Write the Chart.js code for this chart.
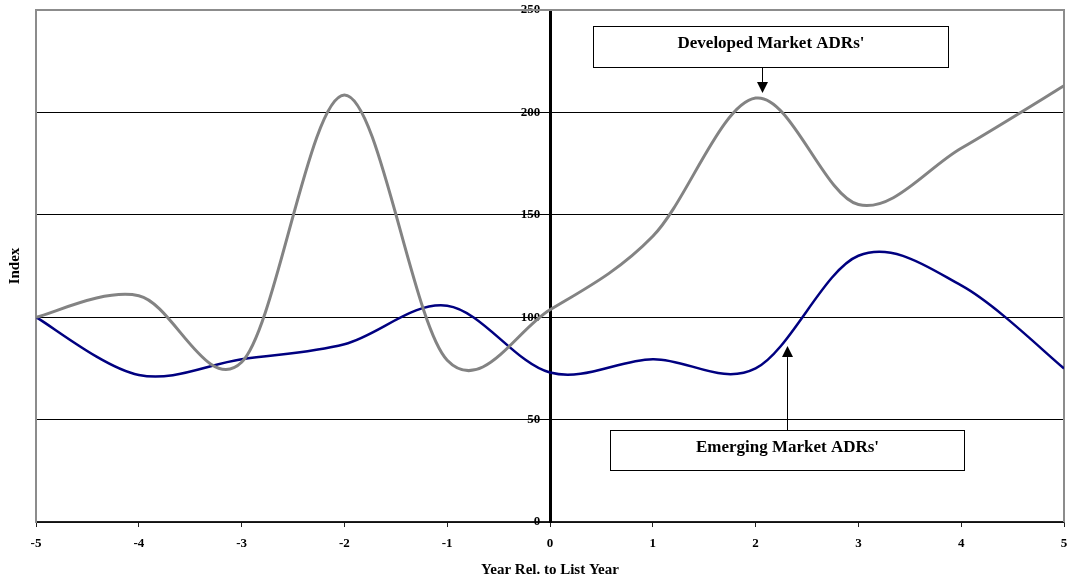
<!DOCTYPE html>
<html>
<head>
<meta charset="utf-8">
<style>
  html, body { margin: 0; padding: 0; background: #ffffff; }
  #wrap { width: 1069px; height: 585px; }
</style>
<script src="https://cdn.jsdelivr.net/npm/chart.js@4.4.1/dist/chart.umd.min.js"></script>
</head>
<body>
<div id="wrap"><canvas id="c" width="1069" height="585"></canvas></div>
<script>
// Years relative to the listing year
const years = [-5, -4, -3, -2, -1, 0, 1, 2, 3, 4, 5];
// Index levels (year -5 = 100)
const developed = [100, 110.5, 78, 208.5, 79, 103.6, 139.5, 207, 155, 182.5, 213];
const emerging  = [100, 71.8, 79.5, 86.8, 105.6, 73, 79.5, 75, 130, 115.5, 75];
const yTicks = [0, 50, 100, 150, 200, 250];
const xTitle = 'Year Rel. to List Year';
const yTitle = 'Index';
const developedLabel = "Developed Market ADRs'";
const emergingLabel = "Emerging Market ADRs'";

const SERIF = "'Liberation Serif', 'DejaVu Serif', serif";

// Callout boxes, anchored in data units
const callouts = [
  { text: developedLabel, x0: 0.418, x1: 3.869, yTop: 242.2, yBottom: 222.0,
    arrowX: 2.059, arrowFrom: 'bottom', arrowTip: 209.5 },
  { text: emergingLabel, x0: 0.579, x1: 4.025, yTop: 44.9, yBottom: 25.4,
    arrowX: 2.305, arrowFrom: 'top', arrowTip: 85.9 }
];

// Smooth the lines with a uniform Catmull-Rom spline: each point's Bezier
// handles run parallel to the chord between its neighbours, 1/6 of its length.
const catmullRomPlugin = {
  id: 'catmullRom',
  afterDatasetUpdate(chart, args) {
    const meta = args.meta;
    const line = meta.dataset;
    const pts = meta.data;
    if (!line || !pts || pts.length < 2) return;
    line.updateControlPoints(chart.chartArea, meta.iScale.axis);
    for (let i = 0; i < pts.length; i++) {
      const p = pts[i];
      const prev = pts[i - 1] || p;
      const next = pts[i + 1] || p;
      const tx = (next.x - prev.x) / 6;
      const ty = (next.y - prev.y) / 6;
      p.cp1x = p.x - tx; p.cp1y = p.y - ty;
      p.cp2x = p.x + tx; p.cp2y = p.y + ty;
    }
  }
};

const framePlugin = {
  id: 'frame',
  beforeDatasetsDraw(chart) {
    const { ctx, chartArea: a } = chart;
    ctx.save();
    ctx.strokeStyle = '#8c8c8c';
    ctx.lineWidth = 2;
    ctx.beginPath();
    ctx.moveTo(a.left, a.top);
    ctx.lineTo(a.right, a.top);
    ctx.lineTo(a.right, a.bottom);
    ctx.stroke();
    ctx.restore();
  }
};

const calloutPlugin = {
  id: 'callouts',
  afterDatasetsDraw(chart) {
    const { ctx } = chart;
    const xs = chart.scales.x, ys = chart.scales.y;
    ctx.save();
    callouts.forEach(c => {
      const l = Math.round(xs.getPixelForValue(c.x0)) + 0.5;
      const r = Math.round(xs.getPixelForValue(c.x1)) + 0.5;
      const t = Math.round(ys.getPixelForValue(c.yTop)) + 0.5;
      const b = Math.round(ys.getPixelForValue(c.yBottom)) + 0.5;
      ctx.fillStyle = '#ffffff';
      ctx.fillRect(l, t, r - l, b - t);
      ctx.strokeStyle = '#000000';
      ctx.lineWidth = 1;
      ctx.strokeRect(l, t, r - l, b - t);
      ctx.fillStyle = '#000000';
      ctx.font = 'bold 17px ' + SERIF;
      ctx.textAlign = 'center';
      ctx.textBaseline = 'middle';
      ctx.fillText(c.text, (l + r) / 2, t + 17);

      const ax = Math.round(xs.getPixelForValue(c.arrowX)) + 0.5;
      const tip = ys.getPixelForValue(c.arrowTip);
      const start = c.arrowFrom === 'bottom' ? b : t;
      const dir = tip > start ? 1 : -1;
      const head = 11, half = 5.5;
      ctx.beginPath();
      ctx.moveTo(ax, start);
      ctx.lineTo(ax, tip - dir * head);
      ctx.stroke();
      ctx.beginPath();
      ctx.moveTo(ax, tip);
      ctx.lineTo(ax - half, tip - dir * head);
      ctx.lineTo(ax + half, tip - dir * head);
      ctx.closePath();
      ctx.fill();
    });
    ctx.restore();
  }
};

const toPoints = arr => years.map((yr, i) => ({ x: yr, y: arr[i] }));

new Chart(document.getElementById('c'), {
  type: 'line',
  data: {
    datasets: [
      {
        label: developedLabel,
        data: toPoints(developed),
        borderColor: '#838383',
        borderWidth: 3,
        pointRadius: 0,
        tension: 0.5,
        fill: false
      },
      {
        label: emergingLabel,
        data: toPoints(emerging),
        borderColor: '#000080',
        borderWidth: 2.5,
        pointRadius: 0,
        tension: 0.5,
        fill: false
      }
    ]
  },
  options: {
    responsive: false,
    animation: false,
    devicePixelRatio: 1,
    layout: { padding: { left: 2, right: 5, top: 10, bottom: 0 } },
    plugins: {
      legend: { display: false },
      tooltip: { enabled: false }
    },
    scales: {
      x: {
        type: 'linear',
        position: 'bottom',
        min: years[0],
        max: years[years.length - 1],
        ticks: {
          stepSize: 1,
          color: '#000000',
          padding: 1,
          font: { family: SERIF, size: 13, weight: 'bold', lineHeight: 2.46 }
        },
        grid: {
          drawOnChartArea: false,
          drawTicks: true,
          tickLength: 5,
          color: '#222222',
          lineWidth: 1
        },
        border: { color: '#222222', width: 1.5 },
        title: {
          display: true,
          text: xTitle,
          color: '#000000',
          font: { family: SERIF, size: 15, weight: 'bold' },
          padding: { top: 0, bottom: 6 }
        }
      },
      y: {
        type: 'linear',
        position: { x: 0 },
        min: yTicks[0],
        max: yTicks[yTicks.length - 1],
        afterBuildTicks(scale) { scale.ticks = yTicks.map(v => ({ value: v })); },
        ticks: {
          color: '#000000',
          padding: 0,
          font: { family: SERIF, size: 13, weight: 'bold' },
          callback: v => v + '   '
        },
        grid: {
          color: ctx => (ctx.tick && ctx.tick.value === 250 ? '#8c8c8c' : '#000000'),
          lineWidth: 1,
          tickLength: 4
        },
        border: { color: '#000000', width: 3 }
      },
      yFrame: {
        type: 'linear',
        position: 'left',
        min: yTicks[0],
        max: yTicks[yTicks.length - 1],
        ticks: { display: false },
        grid: { display: false, drawTicks: false },
        border: { display: true, color: '#8c8c8c', width: 2 },
        title: {
          display: true,
          text: yTitle,
          color: '#000000',
          font: { family: SERIF, size: 15, weight: 'bold' },
          padding: { top: 4, bottom: 12 }
        }
      }
    }
  },
  plugins: [catmullRomPlugin, framePlugin, calloutPlugin]
});
</script>
</body>
</html>
